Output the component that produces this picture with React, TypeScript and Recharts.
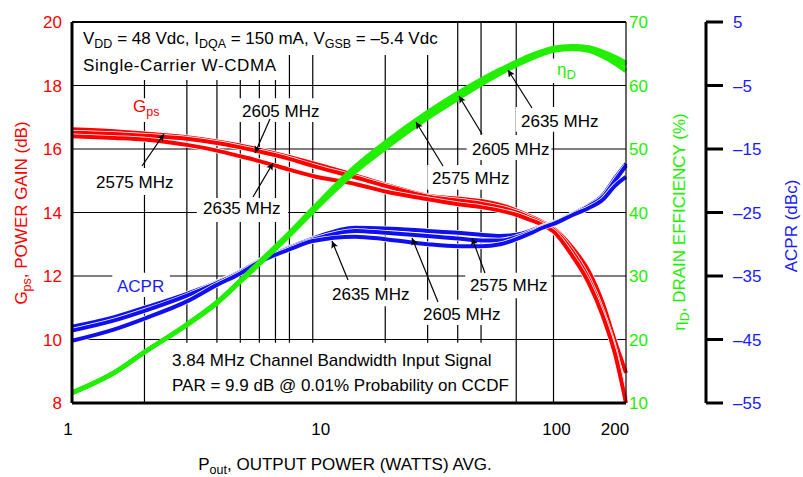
import React from "react";
import {
  ComposedChart,
  Line,
  XAxis,
  YAxis,
  CartesianGrid,
  ReferenceArea,
  ReferenceLine,
} from "recharts";

const RED = "#ff0000";
const GREEN = "#22ee00";
const BLUE = "#1010ee";
const BLUE_TEXT = "#1a1aff";
const FONT = "'Liberation Sans', Arial, Helvetica, sans-serif";

// output power, watts avg.
const POUT = [1, 1.5, 2, 3, 4, 5, 6, 8, 10, 15, 20, 30, 40, 50, 60, 70, 80, 90, 100, 120, 140, 160, 180, 200];

// power gain (dB)
const GPS_2575 = [16.62, 16.56, 16.49, 16.37, 16.24, 16.11, 15.98, 15.75, 15.55, 15.17, 14.88, 14.53, 14.44, 14.36, 14.24, 14.07, 13.88, 13.7, 13.5, 12.88, 12.15, 11.15, 9.95, 8.95];
const GPS_2605 = [16.51, 16.47, 16.42, 16.32, 16.19, 16.05, 15.92, 15.69, 15.47, 15.11, 14.84, 14.5, 14.38, 14.28, 14.16, 14.01, 13.83, 13.66, 13.46, 12.75, 11.9, 10.85, 9.65, 8.1];
const GPS_2635 = [16.4, 16.35, 16.3, 16.13, 15.95, 15.77, 15.62, 15.35, 15.15, 14.9, 14.66, 14.42, 14.26, 14.17, 14.06, 13.93, 13.77, 13.61, 13.4, 12.62, 11.78, 10.75, 9.55, 8.0];

// drain efficiency (%)
const EFF_2575 = [11.6, 14.8, 18.0, 22.4, 25.9, 29.3, 32.2, 36.8, 40.6, 47.2, 51.0, 55.8, 58.8, 60.9, 62.5, 63.7, 64.7, 65.4, 65.9, 66.2, 66.0, 65.3, 64.5, 63.6];
const EFF_2605 = [11.6, 14.8, 18.0, 22.3, 25.8, 29.2, 32.0, 36.6, 40.4, 46.9, 50.6, 55.4, 58.4, 60.6, 62.3, 63.6, 64.6, 65.3, 65.8, 66.1, 65.9, 65.1, 64.2, 63.2];
const EFF_2635 = [11.6, 14.8, 18.0, 22.3, 25.7, 29.1, 31.9, 36.4, 40.1, 46.4, 50.1, 54.9, 57.9, 60.2, 61.9, 63.2, 64.2, 65.0, 65.5, 65.8, 65.5, 64.6, 63.5, 62.3];

// ACPR (dBc)
const ACPR_2575 = [-43.0, -41.5, -40.0, -37.8, -36.0, -34.3, -32.6, -30.5, -29.1, -27.4, -27.5, -27.9, -28.2, -28.5, -28.7, -28.5, -27.9, -27.2, -26.6, -25.2, -23.9, -22.3, -19.6, -17.3];
const ACPR_2605 = [-43.6, -42.0, -40.5, -38.1, -36.1, -34.4, -32.7, -30.6, -29.3, -27.9, -28.2, -28.7, -29.1, -29.4, -29.4, -28.9, -28.1, -27.3, -26.7, -25.3, -24.0, -22.6, -20.0, -17.6];
const ACPR_2635 = [-45.2, -43.4, -41.7, -39.0, -36.4, -34.6, -32.8, -30.8, -29.5, -28.8, -29.2, -30.0, -30.3, -30.3, -30.0, -29.2, -28.3, -27.4, -26.8, -25.4, -24.3, -23.0, -20.8, -19.4];

const X_TICKS = [1, 10, 100, 200];
const X_GRID = [2, 3, 4, 5, 6, 7, 8, 9, 10, 20, 30, 40, 50, 60, 70, 80, 90, 100];
const GPS_TICKS = [8, 10, 12, 14, 16, 18, 20];
const EFF_TICKS = [10, 20, 30, 40, 50, 60, 70];
const ACPR_TICKS = [-55, -45, -35, -25, -15, -5, 5];

const data = POUT.map((p, i) => ({
  p,
  g1: GPS_2575[i],
  g2: GPS_2605[i],
  g3: GPS_2635[i],
  e1: EFF_2575[i],
  e2: EFF_2605[i],
  e3: EFF_2635[i],
  a1: ACPR_2575[i],
  a2: ACPR_2605[i],
  a3: ACPR_2635[i],
}));

// white backgrounds behind the annotations (P, Gps units)
const BOXES = [
  [1, 39, 20, 18.96],
  [1, 7.6, 18.96, 18.17],
  [1.72, 2.4, 17.6, 16.85],
  [4.85, 11.2, 17.6, 16.85],
  [1.21, 2.85, 15.4, 14.55],
  [3.3, 7.9, 14.46, 13.7],
  [1.47, 2.55, 12.1, 11.34],
  [11.4, 26.3, 11.85, 11.05],
  [27.3, 63.5, 11.25, 10.46],
  [43, 98, 12.1, 11.3],
  [29.9, 69, 15.5, 14.72],
  [43.6, 98, 16.44, 15.65],
  [69.6, 162, 17.32, 16.54],
  [98.5, 135, 18.85, 18.08],
  [2.43, 58, 9.9, 9.04],
  [2.43, 68, 9.04, 8.0],
];

// halo: thin white edge so neighbouring curves stay apart; green drawn last (on top)
const SERIES = [
  { key: "g1", axis: 0, color: RED, halo: true },
  { key: "g2", axis: 0, color: RED, halo: true },
  { key: "g3", axis: 0, color: RED, halo: true },
  { key: "a1", axis: "z", color: BLUE, halo: true },
  { key: "a2", axis: "z", color: BLUE, halo: true },
  { key: "a3", axis: "z", color: BLUE, halo: true },
  { key: "e1", axis: "e", color: GREEN, halo: false },
  { key: "e2", axis: "e", color: GREEN, halo: false },
  { key: "e3", axis: "e", color: GREEN, halo: false },
];

const X_LABEL_SHIFT: Record<number, number> = { 1: -4, 10: 8, 100: 3, 200: -11 };

function XTick(props: any) {
  const { x, y, payload } = props;
  return (
    <text
      x={x + (X_LABEL_SHIFT[payload.value] ?? 0)}
      y={y}
      dy="0.71em"
      textAnchor="middle"
      fontSize={17}
      fill="#000"
    >
      {payload.value}
    </text>
  );
}

const dash = (v: number) => (v < 0 ? `\u2013${Math.abs(v)}` : `${v}`);

function Label({ x, y, children, fill = "#000" }: any) {
  return (
    <text x={x} y={y} fontSize={17} fill={fill}>
      {children}
    </text>
  );
}

function Arrow({ x1, y1, x2, y2 }: any) {
  return <line x1={x1} y1={y1} x2={x2} y2={y2} stroke="#000" strokeWidth={1.2} markerEnd="url(#ah)" />;
}

function Notes() {
  return (
    <svg
      width={803}
      height={477}
      style={{ position: "absolute", left: 0, top: 0, pointerEvents: "none", fontFamily: FONT }}
    >
      <defs>
        <marker id="ah" viewBox="0 0 10 10" refX="10" refY="5" markerWidth="11" markerHeight="7" markerUnits="userSpaceOnUse" orient="auto">
          <path d="M0,0 L10,5 L0,10 L2,5 z" fill="#000" />
        </marker>
      </defs>

      <text x={83} y={44} fontSize={17}>
        V<tspan fontSize={12.5} dy={3.5}>DD</tspan>
        <tspan dy={-3.5}> = 48 Vdc, I</tspan>
        <tspan fontSize={12.5} dy={3.5}>DQA</tspan>
        <tspan dy={-3.5}> = 150 mA, V</tspan>
        <tspan fontSize={12.5} dy={3.5}>GSB</tspan>
        <tspan dy={-3.5}> = {"\u2013"}5.4 Vdc</tspan>
      </text>
      <text x={83} y={70.5} fontSize={17} letterSpacing={0.6}>
        Single-Carrier W-CDMA
      </text>

      <text x={133} y={112} fontSize={17} fill={RED}>
        G<tspan fontSize={12.5} dy={4}>ps</tspan>
      </text>
      <Label x={242} y={117}>2605 MHz</Label>
      <Label x={96} y={188}>2575 MHz</Label>
      <Label x={203} y={214}>2635 MHz</Label>
      <Arrow x1={142} y1={166} x2={164} y2={134} />
      <Arrow x1={270} y1={119} x2={255} y2={153} />
      <Arrow x1={253} y1={197} x2={273} y2={163} />

      <Label x={117} y={291.5} fill={BLUE_TEXT}>ACPR</Label>
      <Label x={332} y={300}>2635 MHz</Label>
      <Label x={423} y={320}>2605 MHz</Label>
      <Label x={470} y={291}>2575 MHz</Label>
      <Arrow x1={348} y1={280} x2={332} y2={241} />
      <Arrow x1={438} y1={302} x2={412} y2={238} />
      <Arrow x1={485} y1={273} x2={472} y2={238} />

      <Label x={432} y={184}>2575 MHz</Label>
      <Label x={472} y={155}>2605 MHz</Label>
      <Label x={521} y={126.5}>2635 MHz</Label>
      <Arrow x1={443} y1={166} x2={416} y2={122} />
      <Arrow x1={482} y1={134} x2={459} y2={96} />
      <Arrow x1={532} y1={108} x2={508} y2={70} />
      <text x={557} y={75} fontSize={17} fill={GREEN}>
        {"\u03b7"}<tspan fontSize={13} dy={4}>D</tspan>
      </text>

      <Label x={172} y={366}>3.84 MHz Channel Bandwidth Input Signal</Label>
      <Label x={172} y={391}>PAR = 9.9 dB @ 0.01% Probability on CCDF</Label>

      <text transform="translate(27,213) rotate(-90)" textAnchor="middle" fontSize={17} fill={RED}>
        G<tspan fontSize={12.5} dy={4}>ps</tspan>
        <tspan dy={-4}>, POWER GAIN (dB)</tspan>
      </text>
      <text transform="translate(685,222) rotate(-90)" textAnchor="middle" fontSize={17} fill={GREEN}>
        {"\u03b7"}<tspan fontSize={12.5} dy={4}>D</tspan>
        <tspan dy={-4}>, DRAIN EFFICIENCY (%)</tspan>
      </text>
      <text transform="translate(797,226) rotate(-90)" textAnchor="middle" fontSize={17} fill={BLUE_TEXT}>
        ACPR (dBc)
      </text>
      <text x={345} y={470} textAnchor="middle" fontSize={17}>
        P<tspan fontSize={12.5} dy={3.5}>out</tspan>
        <tspan dy={-3.5}>, OUTPUT POWER (WATTS) AVG.</tspan>
      </text>
    </svg>
  );
}

export default function App() {
  return (
    <div style={{ position: "absolute", left: 0, top: 0, width: 803, height: 477, background: "#fff", fontFamily: FONT }}>
      <ComposedChart width={803} height={477} data={data} margin={{ top: 22, right: 0, bottom: 0, left: 0 }}>
        <CartesianGrid
          stroke="#000"
          strokeWidth={1.2}
          verticalValues={X_GRID}
          horizontalValues={GPS_TICKS}
        />
        {BOXES.map(([x1, x2, y1, y2], i) => (
          <ReferenceArea key={i} x1={x1} x2={x2} y1={y1} y2={y2} fill="#fff" fillOpacity={1} stroke="none" ifOverflow="visible" />
        ))}
        <ReferenceLine y={20} stroke="#000" strokeWidth={2} />

        {SERIES.flatMap((s) => [
          s.halo ? (
            <Line
              key={s.key + "-halo"}
              yAxisId={s.axis}
              dataKey={s.key}
              type="monotone"
              stroke="#fff"
              strokeWidth={5.5}
              dot={false}
              activeDot={false}
              isAnimationActive={false}
            />
          ) : null,
          <Line
            key={s.key}
            yAxisId={s.axis}
            dataKey={s.key}
            type="monotone"
            stroke={s.color}
            strokeWidth={s.color === GREEN ? 4.5 : 4}
            dot={false}
            isAnimationActive={false}
          />,
        ])}

        <XAxis
          dataKey="p"
          type="number"
          scale="log"
          domain={[1, 200]}
          ticks={X_TICKS}
          height={74}
          tick={<XTick />}
          tickLine={false}
          tickSize={0}
          tickMargin={20}
          axisLine={{ stroke: "#000", strokeWidth: 3 }}
        />
        <YAxis
          domain={[8, 20]}
          ticks={GPS_TICKS}
          width={72}
          tickLine={false}
          tickSize={0}
          tickMargin={10}
          tick={{ fill: RED, fontSize: 17 }}
          axisLine={{ stroke: "#000", strokeWidth: 3 }}
        />
        <YAxis
          yAxisId="z"
          orientation="right"
          domain={[-55, 5]}
          ticks={ACPR_TICKS}
          width={97}
          tickSize={17}
          tickMargin={10}
          tickFormatter={dash}
          tick={{ fill: BLUE_TEXT, fontSize: 17 }}
          tickLine={{ stroke: "#000", strokeWidth: 3 }}
          axisLine={{ stroke: "#000", strokeWidth: 3 }}
        />
        <YAxis
          yAxisId="e"
          orientation="right"
          domain={[10, 70]}
          ticks={EFF_TICKS}
          width={80}
          tickLine={false}
          tickSize={0}
          tickMargin={3}
          tick={{ fill: GREEN, fontSize: 17 }}
          axisLine={{ stroke: "#000", strokeWidth: 1.2 }}
        />
      </ComposedChart>
      <Notes />
    </div>
  );
}
